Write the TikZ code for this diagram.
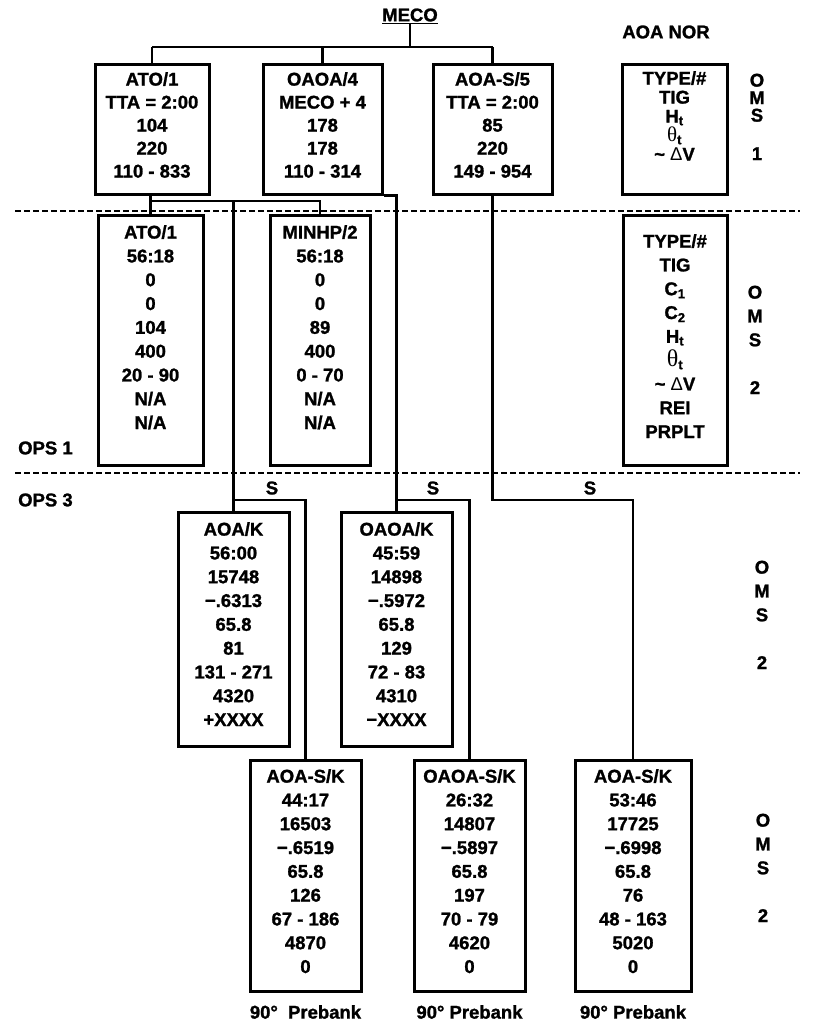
\documentclass[tikz,border=0pt]{standalone}
\usepackage{fontspec}
\setmainfont{Liberation Sans}[BoldFeatures={FakeBold=1.3}]
\newfontfamily\serifsym{Liberation Serif}
\usetikzlibrary{calc}
\newcommand{\fA}{\bfseries\fontsize{18.5}{23}\selectfont}
\newcommand{\fB}{\bfseries\fontsize{18.5}{23.8}\selectfont}
\newcommand{\fC}{\bfseries\fontsize{18.5}{19}\selectfont}
\newcommand{\fD}{\bfseries\fontsize{18.5}{17.5}\selectfont}
\newcommand{\thet}{{\serifsym\mdseries\fontsize{24}{24}\selectfont θ}\textsubscript{t}}
\newcommand{\thets}{{\serifsym\mdseries\fontsize{21}{21}\selectfont θ}\textsubscript{t}}
\newcommand{\dV}{\textasciitilde\ {\mdseries Δ}V}
\tikzset{
  box/.style={draw, line width=3pt, inner sep=0pt},
  wire/.style={line width=2.2pt},
  sepline/.style={line width=2pt, dash pattern=on 6pt off 3pt},
  txt/.style={align=center, inner sep=0pt, anchor=north},
  lbl/.style={inner sep=0pt},
}
\begin{document}
\begin{tikzpicture}[x=1pt,y=-1pt,font=\fB]
\useasboundingbox (0,0) rectangle (814,1023);

% ---------- separators
\draw[sepline] (15,211) -- (800,211);
\draw[sepline] (15,473) -- (800,473);

% ---------- helper coordinates
\coordinate (ty) at (0,47);
\coordinate (jy) at (0,201);
\coordinate (sy) at (0,500);
\coordinate (pby) at (0,1012);

% ---------- boxes
\node[box, minimum width=114pt, minimum height=130pt] (atoA)  at (152,129) {};
\node[box, minimum width=119pt, minimum height=130pt] (oaoa4) at (322.5,129) {};
\node[box, minimum width=119pt, minimum height=130pt] (aoas5) at (492.5,129) {};
\node[box, minimum width=105pt, minimum height=130pt] (nor1)  at (674.5,129) {};

\node[box, minimum width=105pt, minimum height=250pt] (atoB)  at (150.5,340) {};
\node[box, minimum width=100pt, minimum height=250pt] (minhp) at (320,340) {};
\node[box, minimum width=104pt, minimum height=250pt] (nor2)  at (675,340) {};

\node[box, minimum width=111pt, minimum height=234pt] (aoak)  at (233.5,629) {};
\node[box, minimum width=111pt, minimum height=234pt] (oaoak) at (396.5,629) {};

\node[box, minimum width=111pt, minimum height=231pt] (aoask1) at (305.5,875.5) {};
\node[box, minimum width=111pt, minimum height=231pt] (oaoask) at (469.5,875.5) {};
\node[box, minimum width=116pt, minimum height=231pt] (aoask3) at (633,875.5) {};

% ---------- box texts
\node[txt, font=\fA] (atoA-t)  at ([yshift=-9.5pt]atoA.north)  {ATO/1\\TTA = 2:00\\104\\220\\110 - 833};
\node[txt, font=\fA] (oaoa4-t) at ([yshift=-9.5pt]oaoa4.north) {OAOA/4\\MECO + 4\\178\\178\\110 - 314};
\node[txt, font=\fA] (aoas5-t) at ([yshift=-9.5pt]aoas5.north) {AOA-S/5\\TTA = 2:00\\85\\220\\149 - 954};
\node[txt, font=\fC] (nor1-t)  at ([yshift=-8.5pt]nor1.north)  {TYPE/\#\\TIG\\H\textsubscript{t}\\\thets\\\dV};

\node[txt, font=\fB] (atoB-t)  at ([yshift=-11.5pt]atoB.north)  {ATO/1\\56:18\\0\\0\\104\\400\\20 - 90\\N/A\\N/A};
\node[txt, font=\fB] (minhp-t) at ([yshift=-11.5pt]minhp.north) {MINHP/2\\56:18\\0\\0\\89\\400\\0 - 70\\N/A\\N/A};
\node[txt, font=\fB] (nor2-t)  at ([yshift=-20.5pt]nor2.north)  {TYPE/\#\\TIG\\C\textsubscript{1}\\C\textsubscript{2}\\H\textsubscript{t}\\\thet\\\dV\\REI\\PRPLT};

\node[txt, font=\fB] (aoak-t)  at ([yshift=-11.5pt]aoak.north)  {AOA/K\\56:00\\15748\\−.6313\\65.8\\81\\131 - 271\\4320\\+XXXX};
\node[txt, font=\fB] (oaoak-t) at ([yshift=-11.5pt]oaoak.north) {OAOA/K\\45:59\\14898\\−.5972\\65.8\\129\\72 - 83\\4310\\−XXXX};

\node[txt, font=\fB] (aoask1-t) at ([yshift=-10.5pt]aoask1.north) {AOA-S/K\\44:17\\16503\\−.6519\\65.8\\126\\67 - 186\\4870\\0};
\node[txt, font=\fB] (oaoask-t) at ([yshift=-10.5pt]oaoask.north) {OAOA-S/K\\26:32\\14807\\−.5897\\65.8\\197\\70 - 79\\4620\\0};
\node[txt, font=\fB] (aoask3-t) at ([yshift=-10.5pt]aoask3.north) {AOA-S/K\\53:46\\17725\\−.6998\\65.8\\76\\48 - 163\\5020\\0};

% ---------- labels
\node[lbl] (meco) at (410,16) {\underline{MECO}};
\node[lbl] (aoanor) at (666,32) {AOA NOR};
\node[lbl, anchor=west] (ops1) at (18,448) {OPS 1};
\node[lbl, anchor=west] (ops3) at (18,500) {OPS 3};
\node[lbl] (s1) at (272,488) {S};
\node[lbl] (s2) at (433,488) {S};
\node[lbl] (s3) at (590,488) {S};

\node[txt, font=\fD] (oms1) at (757,73.5) {O\\M\\S\\[21pt]1};
\node[txt, font=\fB] (oms2) at (755,285.5) {O\\M\\S\\[24pt]2};
\node[txt, font=\fB] (oms3) at (762,560.5) {O\\M\\S\\[24pt]2};
\node[txt, font=\fB] (oms4) at (763,813.5) {O\\M\\S\\[24pt]2};

\node[lbl] (pb1) at (aoask1.south |- pby) {90°\ \ Prebank};
\node[lbl] (pb2) at (oaoask.south |- pby) {90° Prebank};
\node[lbl] (pb3) at (aoask3.south |- pby) {90° Prebank};

% ---------- connectors
\draw[wire] (meco.south) -- (meco.south |- ty);
\draw[wire] (atoA.north |- ty) -- (aoas5.north |- ty);
\draw[wire] (atoA.north |- ty) -- (atoA.north);
\draw[wire] (oaoa4.north |- ty) -- (oaoa4.north);
\draw[wire] (aoas5.north |- ty) -- (aoas5.north);

\coordinate (j1) at (atoB.north |- jy);
\draw[wire] (atoB.north |- atoA.south) -- (atoB.north);
\draw[wire] (j1) -| (minhp.north);
\draw[wire] (aoak.north |- jy) -- (aoak.north);
\coordinate (j2) at (aoak.north |- sy);
\draw[wire] (j2) -| (aoask1.north);

\draw[wire] (oaoa4.south east) -| (oaoak.north);
\coordinate (j3) at (oaoak.north |- sy);
\draw[wire] (j3) -| (oaoask.north);

\draw[wire] (aoas5.south) |- (aoask3.north |- sy) -- (aoask3.north);
\end{tikzpicture}
\end{document}
